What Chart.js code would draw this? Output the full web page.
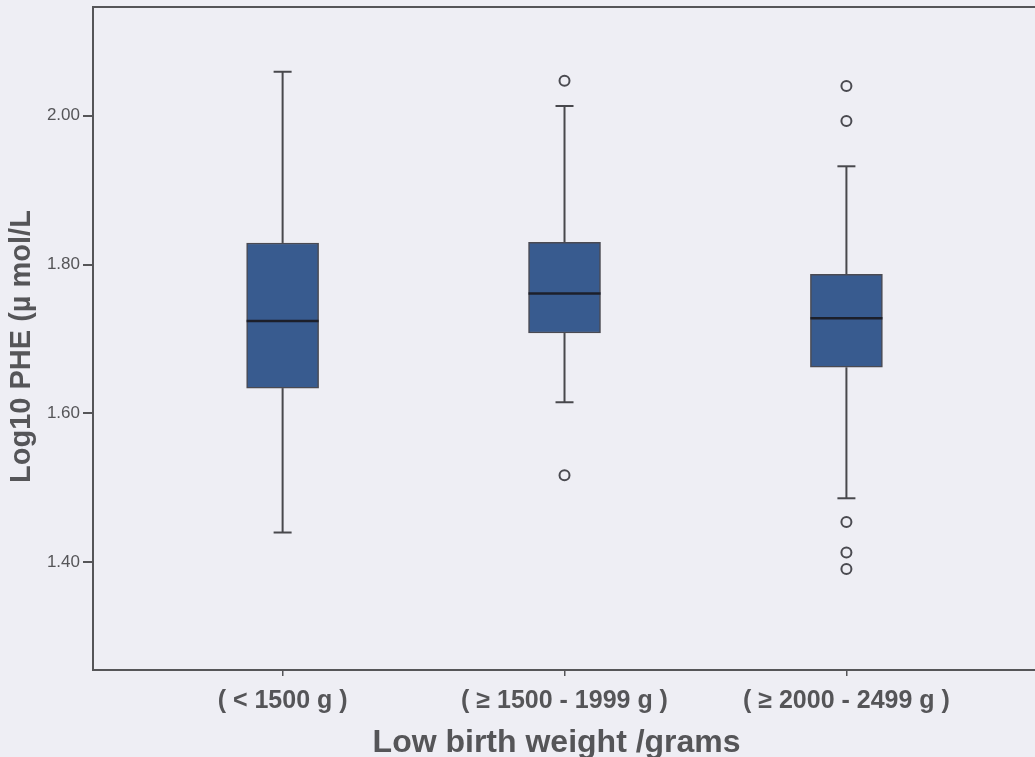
<!DOCTYPE html>
<html>
<head>
<meta charset="utf-8">
<script src="https://cdn.jsdelivr.net/npm/chart.js@4/dist/chart.umd.min.js"></script>
<style>
  html, body { margin: 0; padding: 0; background: #eeeef4; overflow: hidden; }
  #wrap { position: absolute; left: 0; top: 0; width: 1045px; height: 757px; }
</style>
</head>
<body>
<div id="wrap"><canvas id="c" width="1045" height="757"></canvas></div>
<script>
// Birth weight groups and the five-number summaries of log10 PHE per group
const groups = ['( < 1500 g )', '( \u2265 1500 - 1999 g )', '( \u2265 2000 - 2499 g )'];
const groupPos = [1, 2, 3];
const whiskerLow = [1.440, 1.615, 1.486];
const q1 = [1.634, 1.708, 1.662];
const median = [1.724, 1.761, 1.728];
const q3 = [1.829, 1.830, 1.787];
const whiskerHigh = [2.059, 2.013, 1.932];
const outliers = [[], [2.047, 1.517], [2.040, 1.993, 1.454, 1.413, 1.391]];
const yTicks = [1.40, 1.60, 1.80, 2.00];

const INK = '#555558';
const FONT = "'Liberation Sans', Arial, sans-serif";

const boxData = groupPos.map((x, i) => ({ x: x, y: [q1[i], q3[i]] }));
const outlierData = [];
outliers.forEach((vals, i) => vals.forEach(v => outlierData.push({ x: groupPos[i], y: v })));

// Page background, plot frame, whiskers and medians
const boxplotParts = {
  id: 'boxplotParts',
  beforeDraw(chart) {
    const ctx = chart.ctx;
    ctx.save();
    ctx.fillStyle = '#eeeef4';
    ctx.fillRect(0, 0, chart.width, chart.height);
    ctx.restore();
  },
  beforeDatasetsDraw(chart) {
    const ctx = chart.ctx, xs = chart.scales.x, ys = chart.scales.y;
    const a = chart.chartArea;
    ctx.save();
    ctx.strokeStyle = INK;
    ctx.lineWidth = 2;
    ctx.strokeRect(a.left, a.top, a.right - a.left, a.bottom - a.top);
    ctx.strokeStyle = '#48484c';
    groupPos.forEach((g, i) => {
      const cx = xs.getPixelForValue(g);
      const capHalf = 9;
      [[q3[i], whiskerHigh[i]], [q1[i], whiskerLow[i]]].forEach(([from, to]) => {
        ctx.beginPath();
        ctx.moveTo(cx, ys.getPixelForValue(from));
        ctx.lineTo(cx, ys.getPixelForValue(to));
        ctx.stroke();
        ctx.beginPath();
        ctx.moveTo(cx - capHalf, ys.getPixelForValue(to));
        ctx.lineTo(cx + capHalf, ys.getPixelForValue(to));
        ctx.stroke();
      });
    });
    ctx.restore();
  },
  afterDatasetsDraw(chart) {
    const ctx = chart.ctx, xs = chart.scales.x, ys = chart.scales.y;
    const bars = chart.getDatasetMeta(0).data;
    ctx.save();
    ctx.strokeStyle = '#1c1f2a';
    ctx.lineWidth = 2.5;
    groupPos.forEach((g, i) => {
      const half = bars[i].width / 2;
      const cx = xs.getPixelForValue(g);
      const y = ys.getPixelForValue(median[i]);
      ctx.beginPath();
      ctx.moveTo(cx - half, y);
      ctx.lineTo(cx + half, y);
      ctx.stroke();
    });
    ctx.restore();
  }
};

new Chart(document.getElementById('c'), {
  type: 'bar',
  data: {
    datasets: [
      {
        type: 'bar',
        data: boxData,
        backgroundColor: '#385b8f',
        borderColor: '#4a4a52',
        borderWidth: 1.5,
        borderSkipped: false,
        barThickness: 72,
        grouped: false
      },
      {
        type: 'scatter',
        data: outlierData,
        pointStyle: 'circle',
        pointRadius: 5,
        pointBackgroundColor: 'rgba(0,0,0,0)',
        pointBorderColor: '#4a4a50',
        pointBorderWidth: 2
      }
    ]
  },
  options: {
    responsive: false,
    animation: false,
    layout: { padding: { top: 6, right: 5, left: 0, bottom: 0 } },
    plugins: { legend: { display: false }, tooltip: { enabled: false } },
    scales: {
      x: {
        type: 'linear',
        offset: false,
        min: 0.3274,
        max: 3.6796,
        afterBuildTicks(scale) { scale.ticks = groupPos.map(v => ({ value: v })); },
        afterFit(scale) { scale.height = 87; scale.paddingLeft = 0; scale.paddingRight = 0; },
        grid: { display: true, offset: false, drawOnChartArea: false, tickLength: 6, color: INK, lineWidth: 1.5 },
        border: { display: true, color: INK, width: 2 },
        ticks: {
          autoSkip: false,
          maxRotation: 0,
          padding: 10,
          color: INK,
          font: { family: FONT, size: 25, weight: 'bold' },
          callback: (v) => groups[groupPos.indexOf(v)] ?? ''
        },
        title: {
          display: true,
          text: 'Low birth weight /grams\u00a0\u00a0',
          color: INK,
          font: { family: FONT, size: 32, weight: 'bold' },
          padding: { top: 0, bottom: -5 }
        }
      },
      y: {
        min: 1.2553,
        max: 2.146,
        afterBuildTicks(scale) { scale.ticks = yTicks.map(v => ({ value: v })); },
        afterFit(scale) { scale.width = 93; scale.paddingTop = 0; scale.paddingBottom = 0; },
        grid: { display: true, drawOnChartArea: false, tickLength: 10, color: INK, lineWidth: 2 },
        border: { display: true, color: INK, width: 2 },
        ticks: {
          padding: 3,
          color: INK,
          font: { family: FONT, size: 17 },
          callback: (v) => Number(v).toFixed(2)
        },
        title: {
          display: true,
          text: 'Log10 PHE (\u00b5 mol/L\u00a0\u00a0',
          color: INK,
          font: { family: FONT, size: 29, weight: 'bold' },
          padding: { top: 5, bottom: 4 }
        }
      }
    }
  },
  plugins: [boxplotParts]
});
</script>
</body>
</html>
